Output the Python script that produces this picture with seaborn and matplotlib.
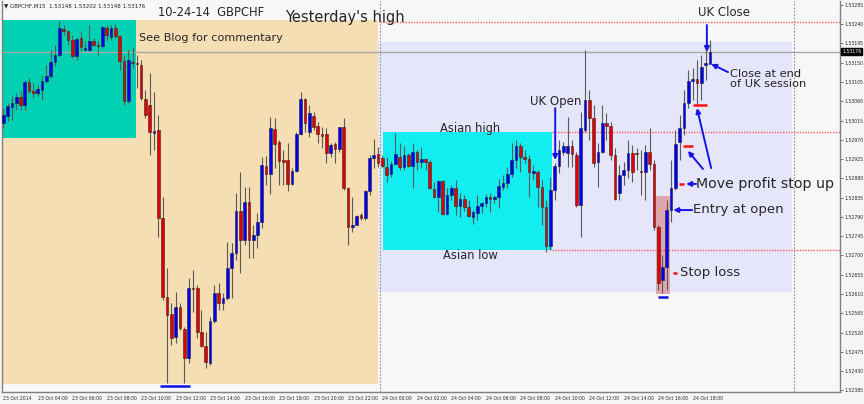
import numpy as np
import matplotlib
matplotlib.use("Agg")
import matplotlib.pyplot as plt
from matplotlib.patches import Rectangle
import seaborn as sns

# GBPCHF M15 bars, bar 0 = 23 Oct 02:00
opens = [
    1.53009, 1.53025, 1.53046, 1.53056, 1.53070, 1.53051, 1.53105, 1.53084, 1.53079, 1.53086,
    1.53107, 1.53119, 1.53151, 1.53168, 1.53228, 1.53224, 1.53203, 1.53165, 1.53207, 1.53179,
    1.53179, 1.53200, 1.53191, 1.53189, 1.53231, 1.53210, 1.53231, 1.53212, 1.53154, 1.53060,
    1.53151, 1.53149, 1.53144, 1.53065, 1.53051, 1.52986, 1.52993, 1.52787, 1.52603, 1.52563,
    1.52510, 1.52580, 1.52528, 1.52461, 1.52624, 1.52624, 1.52521, 1.52489, 1.52449, 1.52547,
    1.52612, 1.52589, 1.52601, 1.52671, 1.52706, 1.52804, 1.52736, 1.52825, 1.52736, 1.52748,
    1.52778, 1.52909, 1.52890, 1.52995, 1.52965, 1.52923, 1.52923, 1.52867, 1.52897, 1.52983,
    1.53065, 1.52988, 1.53025, 1.53002, 1.52983, 1.52983, 1.52939, 1.52960, 1.52948, 1.53000,
    1.52857, 1.52766, 1.52771, 1.52794, 1.52787, 1.52850, 1.52927, 1.52937, 1.52927, 1.52906,
    1.52890, 1.52913, 1.52930, 1.52906, 1.52934, 1.52909, 1.52941, 1.52918, 1.52925, 1.52918,
    1.52855, 1.52836, 1.52874, 1.52797, 1.52841, 1.52857, 1.52815, 1.52832, 1.52813, 1.52790,
    1.52799, 1.52815, 1.52822, 1.52836, 1.52832, 1.52836, 1.52860, 1.52869, 1.52890, 1.52923,
    1.52955, 1.52930, 1.52925, 1.52892, 1.52895, 1.52860, 1.52813, 1.52722, 1.52853, 1.52909,
    1.52941, 1.52939, 1.52955, 1.52934, 1.52818, 1.52993, 1.53063, 1.53021, 1.52918, 1.52941,
    1.53009, 1.53002, 1.52934, 1.52846, 1.52888, 1.52899, 1.52939, 1.52939, 1.52897, 1.52895,
    1.52941, 1.52913, 1.52766, 1.52643, 1.52673, 1.52806, 1.52857, 1.52965, 1.52997, 1.53056,
    1.53107, 1.53112, 1.53102, 1.53144, 1.53148,
]
highs = [
    1.53044, 1.53056, 1.53072, 1.53079, 1.53084, 1.53109, 1.53114, 1.53102, 1.53098, 1.53121,
    1.53144, 1.53179, 1.53191, 1.53247, 1.53238, 1.53226, 1.53214, 1.53207, 1.53224, 1.53200,
    1.53238, 1.53207, 1.53200, 1.53235, 1.53238, 1.53238, 1.53240, 1.53214, 1.53168, 1.53179,
    1.53186, 1.53168, 1.53156, 1.53086, 1.53126, 1.53081, 1.53028, 1.52836, 1.52671, 1.52589,
    1.52615, 1.52589, 1.52533, 1.52647, 1.52666, 1.52631, 1.52573, 1.52521, 1.52556, 1.52631,
    1.52636, 1.52612, 1.52731, 1.52729, 1.52846, 1.52895, 1.52860, 1.52860, 1.52771, 1.52799,
    1.52930, 1.52932, 1.53023, 1.53021, 1.52969, 1.52946, 1.52962, 1.52904, 1.52988, 1.53081,
    1.53067, 1.53051, 1.53035, 1.53011, 1.53000, 1.52997, 1.52962, 1.52965, 1.53000, 1.53021,
    1.52860, 1.52836, 1.52794, 1.52799, 1.52853, 1.52934, 1.52972, 1.52953, 1.52934, 1.52930,
    1.52920, 1.52986, 1.52962, 1.52955, 1.52939, 1.52962, 1.52946, 1.52953, 1.52927, 1.52923,
    1.52871, 1.52876, 1.52876, 1.52857, 1.52864, 1.52876, 1.52846, 1.52841, 1.52829, 1.52806,
    1.52841, 1.52825, 1.52843, 1.52846, 1.52841, 1.52878, 1.52888, 1.52906, 1.52962, 1.52969,
    1.52962, 1.52946, 1.52934, 1.52911, 1.52899, 1.52876, 1.52829, 1.52883, 1.52916, 1.52969,
    1.52965, 1.53023, 1.52969, 1.52941, 1.53035, 1.53179, 1.53086, 1.53051, 1.52962, 1.53051,
    1.53032, 1.53011, 1.52951, 1.52911, 1.52918, 1.52969, 1.52958, 1.52951, 1.52946, 1.52958,
    1.52997, 1.52923, 1.52771, 1.52701, 1.52829, 1.52923, 1.52993, 1.53028, 1.53086, 1.53133,
    1.53137, 1.53156, 1.53168, 1.53179, 1.53202,
]
lows = [
    1.52997, 1.53014, 1.53016, 1.53039, 1.53039, 1.53039, 1.53079, 1.53067, 1.53072, 1.53063,
    1.53102, 1.53114, 1.53142, 1.53165, 1.53214, 1.53191, 1.53161, 1.53156, 1.53177, 1.53177,
    1.53177, 1.53189, 1.53168, 1.53184, 1.53203, 1.53203, 1.53207, 1.53133, 1.53051, 1.53056,
    1.53137, 1.53091, 1.53063, 1.53021, 1.52934, 1.52946, 1.52743, 1.52596, 1.52402, 1.52491,
    1.52496, 1.52526, 1.52402, 1.52449, 1.52568, 1.52507, 1.52486, 1.52437, 1.52444, 1.52542,
    1.52573, 1.52573, 1.52596, 1.52601, 1.52689, 1.52659, 1.52724, 1.52694, 1.52694, 1.52717,
    1.52764, 1.52864, 1.52843, 1.52904, 1.52864, 1.52864, 1.52850, 1.52864, 1.52895, 1.52981,
    1.52988, 1.52976, 1.52993, 1.52962, 1.52951, 1.52916, 1.52930, 1.52916, 1.52941, 1.52853,
    1.52724, 1.52755, 1.52771, 1.52783, 1.52783, 1.52841, 1.52904, 1.52906, 1.52906, 1.52871,
    1.52883, 1.52911, 1.52899, 1.52899, 1.52906, 1.52857, 1.52899, 1.52904, 1.52899, 1.52855,
    1.52834, 1.52801, 1.52794, 1.52794, 1.52829, 1.52794, 1.52790, 1.52804, 1.52790, 1.52773,
    1.52783, 1.52799, 1.52813, 1.52801, 1.52822, 1.52811, 1.52853, 1.52857, 1.52883, 1.52904,
    1.52895, 1.52916, 1.52836, 1.52876, 1.52813, 1.52771, 1.52708, 1.52713, 1.52829, 1.52892,
    1.52934, 1.52906, 1.52906, 1.52813, 1.52743, 1.52988, 1.52969, 1.52906, 1.52860, 1.52939,
    1.52969, 1.52923, 1.52829, 1.52829, 1.52864, 1.52881, 1.52871, 1.52899, 1.52841, 1.52829,
    1.52899, 1.52759, 1.52619, 1.52612, 1.52619, 1.52778, 1.52853, 1.52923, 1.52981, 1.53044,
    1.53063, 1.53051, 1.53063, 1.53109, 1.53148,
]
closes = [
    1.53028, 1.53049, 1.53056, 1.53070, 1.53051, 1.53105, 1.53084, 1.53079, 1.53088, 1.53107,
    1.53119, 1.53151, 1.53168, 1.53231, 1.53224, 1.53203, 1.53165, 1.53205, 1.53186, 1.53184,
    1.53200, 1.53191, 1.53189, 1.53233, 1.53214, 1.53231, 1.53212, 1.53154, 1.53060, 1.53156,
    1.53149, 1.53147, 1.53067, 1.53028, 1.52988, 1.52990, 1.52787, 1.52603, 1.52561, 1.52507,
    1.52580, 1.52531, 1.52461, 1.52624, 1.52622, 1.52521, 1.52489, 1.52451, 1.52547, 1.52612,
    1.52589, 1.52601, 1.52671, 1.52706, 1.52804, 1.52736, 1.52825, 1.52736, 1.52748, 1.52778,
    1.52911, 1.52890, 1.52997, 1.52960, 1.52920, 1.52918, 1.52867, 1.52897, 1.52983, 1.53065,
    1.53009, 1.53032, 1.53000, 1.52983, 1.52979, 1.52939, 1.52958, 1.52948, 1.53000, 1.52857,
    1.52766, 1.52771, 1.52792, 1.52787, 1.52850, 1.52927, 1.52934, 1.52916, 1.52909, 1.52888,
    1.52913, 1.52937, 1.52906, 1.52934, 1.52909, 1.52941, 1.52918, 1.52925, 1.52918, 1.52857,
    1.52836, 1.52874, 1.52797, 1.52841, 1.52857, 1.52815, 1.52832, 1.52813, 1.52792, 1.52801,
    1.52815, 1.52822, 1.52836, 1.52832, 1.52836, 1.52862, 1.52869, 1.52890, 1.52923, 1.52955,
    1.52930, 1.52925, 1.52895, 1.52897, 1.52860, 1.52813, 1.52722, 1.52853, 1.52909, 1.52946,
    1.52955, 1.52955, 1.52937, 1.52818, 1.52997, 1.53063, 1.53021, 1.52916, 1.52941, 1.53009,
    1.53002, 1.52934, 1.52832, 1.52888, 1.52899, 1.52939, 1.52895, 1.52937, 1.52895, 1.52941,
    1.52913, 1.52766, 1.52636, 1.52673, 1.52806, 1.52857, 1.52960, 1.52997, 1.53056, 1.53107,
    1.53112, 1.53102, 1.53140, 1.53149, 1.53176,
]

x_ticks = list(range(0, 161, 8))
x_labels = ["23 Oct 2014", "23 Oct 04:00", "23 Oct 06:00", "23 Oct 08:00", "23 Oct 10:00",
            "23 Oct 12:00", "23 Oct 14:00", "23 Oct 16:00", "23 Oct 18:00", "23 Oct 20:00",
            "23 Oct 22:00", "24 Oct 00:00", "24 Oct 02:00", "24 Oct 04:00", "24 Oct 06:00",
            "24 Oct 08:00", "24 Oct 10:00", "24 Oct 12:00", "24 Oct 14:00", "24 Oct 16:00",
            "24 Oct 18:00"]
y_ticks = [1.52385, 1.52430, 1.52475, 1.52520, 1.52565, 1.52610, 1.52655, 1.52700, 1.52745,
           1.52790, 1.52835, 1.52880, 1.52925, 1.52970, 1.53015, 1.53060, 1.53105, 1.53150,
           1.53195, 1.53240, 1.53285]

yesterday_high = 1.53245
asian_high = 1.52988
asian_low = 1.52713
last_price = 1.53176
day_breaks = [88, 184]

# session boxes: (bar from, bar to, price low, price high, colour)
boxes = [
    (-0.3, 87.0, 1.52400, 1.53249, "#F5DEB3"),
    (-0.3, 30.9, 1.52974, 1.53249, "#00D1B2"),
    (87.0, 183.1, 1.52615, 1.53198, "#E6E6FA"),
    (88.2, 127.4, 1.52713, 1.52988, "#12EEF0"),
    (151.5, 154.8, 1.52610, 1.52839, "#E0A6AE"),
]
# trailing stop marks (bar from, bar to, price)
red_marks = [(160.1, 163.3, 1.53051), (157.8, 160.1, 1.52955),
             (156.8, 158.0, 1.52867), (155.5, 156.4, 1.52659)]
blue_marks = [(36.4, 43.4, 1.52395), (152.0, 154.3, 1.52603)]

sns.set_style("white")
plt.rcParams["font.family"] = ["DejaVu Sans"]

fig = plt.figure(figsize=(8.64, 4.04), dpi=100, facecolor="#F5F5F5")
ax = fig.add_axes([2 / 864, 12 / 404, 838 / 864, 391 / 404])
ax.set_facecolor("#F7F7F7")

for x0, x1, y0, y1, col in boxes:
    ax.add_patch(Rectangle((x0, y0), x1 - x0, y1 - y0, facecolor=col, edgecolor="none", zorder=1))

ax.axhline(last_price, color="#A8A8A8", lw=1, zorder=2)
ax.hlines(yesterday_high, 87.5, 200, colors="#FF5A5A", linestyles=(0, (1, 1)), lw=1, zorder=2)
ax.hlines([asian_high, asian_low], 127.4, 200, colors="#FF5A5A", linestyles=(0, (1, 1)), lw=1, zorder=2)
for d in day_breaks:
    ax.axvline(d - 0.5, color="#909090", ls=(0, (1.5, 1.5)), lw=0.8, zorder=2)

o = np.array(opens)
h = np.array(highs)
l = np.array(lows)
c = np.array(closes)
idx = np.arange(len(o))
up = c >= o
ax.vlines(idx, l, h, color="#5a5a5a", lw=0.8, zorder=3)
ax.bar(idx[up], (c - o)[up], bottom=o[up], width=0.62, color="#0000F0",
       edgecolor="#202040", lw=0.4, zorder=4)
ax.bar(idx[~up], (c - o)[~up], bottom=o[~up], width=0.62, color="#E00000",
       edgecolor="#402020", lw=0.4, zorder=4)

for x0, x1, y in red_marks:
    ax.hlines(y, x0, x1, colors="#FF1010", lw=1.8, zorder=5)
for x0, x1, y in blue_marks:
    ax.hlines(y, x0, x1, colors="#1010E0", lw=1.8, zorder=5)

ax.text(0.2, 1.53282, "\u25bc GBPCHF,M15  1.53148 1.53202 1.53148 1.53176", fontsize=4,
        va="center", zorder=6)
ax.text(36.0, 1.53266, "10-24-14  GBPCHF", fontsize=8.3, va="center", zorder=6)
ax.text(65.4, 1.53256, "Yesterday's high", fontsize=10.5, va="center", zorder=6)
ax.text(31.6, 1.53207, "See Blog for commentary", fontsize=8.1, va="center", zorder=6)
ax.text(161.3, 1.53268, "UK Close", fontsize=8.5, va="center", zorder=6)
ax.text(168.7, 1.53112, "Close at end\nof UK session", fontsize=8.2, va="center",
        linespacing=1.1, zorder=6)
ax.text(122.3, 1.53060, "UK Open", fontsize=8.5, va="center", zorder=6)
ax.text(101.4, 1.52997, "Asian high", fontsize=8.3, va="center", zorder=6)
ax.text(102.1, 1.52699, "Asian low", fontsize=8.3, va="center", zorder=6)
ax.text(160.8, 1.52867, "Move profit stop up", fontsize=10.2, va="center", zorder=6)
ax.text(160.1, 1.52808, "Entry at open", fontsize=9.5, va="center", zorder=6)
ax.text(157.1, 1.52661, "Stop loss", fontsize=9.5, va="center", zorder=6)

arrows = [
    ((128.1, 1.53044), (128.1, 1.52923)),
    ((163.3, 1.53238), (163.3, 1.53175)),
    ((168.2, 1.53128), (164.3, 1.53147)),
    ((160.8, 1.52867), (158.5, 1.52867)),
    ((164.3, 1.52904), (161.0, 1.53044)),
    ((162.4, 1.52902), (158.9, 1.52944)),
    ((159.9, 1.52806), (155.5, 1.52806)),
]
for tail, head in arrows:
    ax.annotate("", xy=head, xytext=tail, zorder=6,
                arrowprops=dict(arrowstyle="-|>", color="#1414E6", lw=1.4,
                                mutation_scale=7, shrinkA=0, shrinkB=0))

ax.set_xlim(-0.3, 194.2)
ax.set_ylim(1.523813, 1.532940)
ax.set_xticks(x_ticks)
ax.set_xticklabels(x_labels, fontsize=3.3, ha="left")
ax.yaxis.tick_right()
ax.set_yticks(y_ticks)
ax.set_yticklabels([f"{v:.5f}" for v in y_ticks], fontsize=3.3)
ax.tick_params(axis="both", direction="out", length=2, width=0.6, color="#606060", pad=1.2)
for side in ["left", "bottom", "right"]:
    ax.spines[side].set_color("#808080")
    ax.spines[side].set_linewidth(1)
ax.spines["top"].set_visible(False)

ax.annotate(f"{last_price:.5f}", xy=(1.0, last_price), xycoords=("axes fraction", "data"),
            xytext=(1.5, 0), textcoords="offset points", fontsize=3.3, color="white",
            va="center", ha="left", annotation_clip=False,
            bbox=dict(boxstyle="square,pad=0.15", fc="black", ec="black"))

fig.savefig("out.png", dpi=100, facecolor=fig.get_facecolor())
